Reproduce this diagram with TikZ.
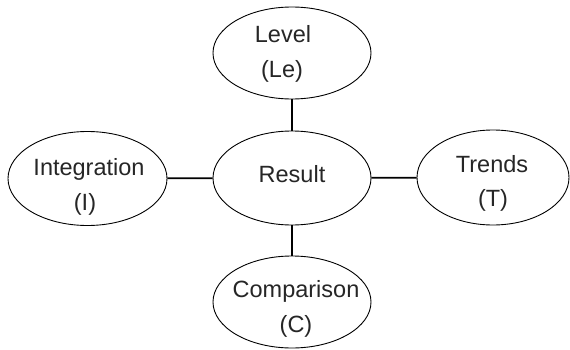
\documentclass[tikz,border=0pt]{standalone}
\usepackage{fontspec}
\setmainfont{Liberation Sans}
\usetikzlibrary{shapes.geometric}
\begin{document}
\begin{tikzpicture}[x=1pt,y=1pt,
  oval/.style={draw=black, line width=0.9pt, ellipse, inner sep=0pt, fill=white},
  link/.style={draw=black, line width=1.7pt},
  lbl/.style={anchor=base, inner sep=0pt, text=black!85, font=\fontsize{23.5}{28}\selectfont}]
\useasboundingbox (0,0) rectangle (570,349);
% ellipses (y = 349 - image y)
\node[oval, minimum width=158pt, minimum height=92pt] (le) at (292,296) {};
\node[oval, minimum width=158pt, minimum height=94pt] (re) at (292,171) {};
\node[oval, minimum width=159pt, minimum height=94pt] (in) at (87.5,170.5) {};
\node[oval, minimum width=152pt, minimum height=95pt] (tr) at (493,171.5) {};
\node[oval, minimum width=158pt, minimum height=92pt] (co) at (292,47) {};
% connectors
\draw[link] (le) -- (re);
\draw[link] (re) -- (co);
\draw[link] (in) -- (re);
\draw[link] (re) -- (tr);
% labels
\node[lbl] (t1) at (283,306) {Level};
\node[lbl] (t2) at (282,272) {(Le)};
\node[lbl] (t3) at (292,167) {Result};
\node[lbl] (t4) at (89,174) {Integration};
\node[lbl] (t5) at (85,139) {(I)};
\node[lbl] (t6) at (492,177) {Trends};
\node[lbl] (t7) at (493,143) {(T)};
\node[lbl] (t8) at (296,52) {Comparison};
\node[lbl] (t9) at (296,17) {(C)};
\end{tikzpicture}
\end{document}
